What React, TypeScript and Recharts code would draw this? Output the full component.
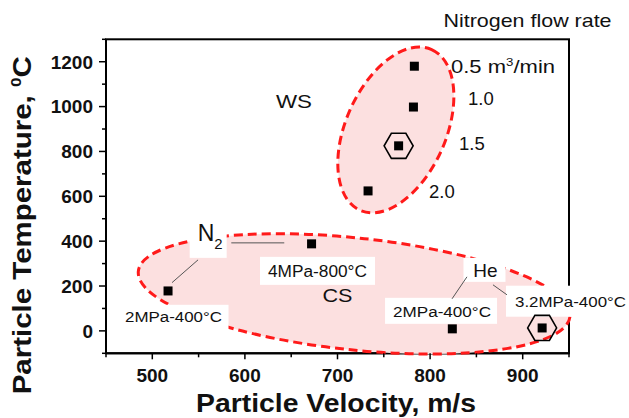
import React from "react";
import * as R from "recharts";
import { ReferenceDot, Scatter, ScatterChart, XAxis, YAxis } from "recharts";

const FONT = '"Liberation Sans", Arial, Helvetica, sans-serif';
const RED = "#ff1a1a";
const PINK = "#fce0e0";

// WS runs, labelled by nitrogen flow rate (m3/min)
const wsFlow = ["0.5", "1.0", "1.5", "2.0"];
const wsVelocity = [783, 782, 766, 733];
const wsTemperature = [1180, 998, 825, 624];

// CS runs, gas + pressure-temperature
const csRun = ["N2 2MPa-400", "N2 4MPa-800", "He 2MPa-400", "He 3.2MPa-400"];
const csVelocity = [517, 672, 824, 921];
const csTemperature = [178, 388, 9, 13];

// runs marked with a hexagon
const marked = ["1.5", "He 3.2MPa-400"];

// region ellipses (centre in data units)
const regionName = ["WS", "CS"];
const regionVelocity = [763, 718];
const regionTemperature = [896, 165];

const xDomain = [450, 950];
const yDomain = [-100, 1300];
const xTicks = [450, 500, 550, 600, 650, 700, 750, 800, 850, 900, 950];
const xMajor = [500, 600, 700, 800, 900];
const yTicks = [-100, 0, 100, 200, 300, 400, 500, 600, 700, 800, 900, 1000, 1100, 1200, 1300];
const yMajor = [0, 200, 400, 600, 800, 1000, 1200];

const points = [
  ...wsFlow.map((name, i) => ({ name, x: wsVelocity[i], y: wsTemperature[i] })),
  ...csRun.map((name, i) => ({ name, x: csVelocity[i], y: csTemperature[i] })),
];
const markedPoints = points.filter((p) => marked.includes(p.name));
const regions = regionName.map((name, i) => ({ name, x: regionVelocity[i], y: regionTemperature[i] }));

// ellipse size / tilt in px
const REGION_GEOM: Record<string, { rx: number; ry: number; angle: number }> = {
  WS: { rx: 88, ry: 50, angle: -66 },
  CS: { rx: 217, ry: 56, angle: 6 },
};

type Note = {
  x: number;
  y: number;
  text: string;
  size: number;
  anchor: "start" | "middle";
  width?: number;
  box?: [number, number, number, number];
  sup?: string;
  tail?: string;
  sub?: string;
};

const notes: Note[] = [
  { x: 814.5, y: 1384, text: "Nitrogen flow rate", size: 18.5, anchor: "start", width: 168 },
  { x: 822.6, y: 1181, text: "0.5 m", sup: "3", tail: "/min", size: 18.5, anchor: "start", width: 104 },
  { x: 840.9, y: 1037, text: "1.0", size: 18.5, anchor: "start" },
  { x: 831.2, y: 838, text: "1.5", size: 18.5, anchor: "start" },
  { x: 798.8, y: 621, text: "2.0", size: 18.5, anchor: "start" },
  { x: 653, y: 1023, text: "WS", size: 18.5, anchor: "middle", width: 36 },
  { x: 549, y: 437, text: "N", sub: "2", size: 23, anchor: "start", box: [-8, -11, 37, 36] },
  { x: 522.9, y: 62.7, text: "2MPa-400°C", size: 15.5, anchor: "middle", width: 97, box: [-55, -12, 110, 25] },
  { x: 678.4, y: 267.6, text: "4MPa-800°C", size: 16, anchor: "middle", width: 99, box: [-57.5, -14, 115, 28] },
  { x: 700, y: 160, text: "CS", size: 18.5, anchor: "middle", width: 30 },
  { x: 859.8, y: 272, text: "He", size: 19, anchor: "middle", box: [-22, -12, 42, 24] },
  { x: 812.9, y: 84.9, text: "2MPa-400°C", size: 15.5, anchor: "middle", width: 98, box: [-57, -14, 112, 26] },
  { x: 891.7, y: 130, text: "3.2MPa-400°C", size: 15, anchor: "start", width: 111, box: [-9, -16, 123, 31] },
];

// leader lines from the gas labels to their runs
const connectors = [
  [{ x: 585.3, y: 392.4 }, { x: 642.5, y: 392.4 }],
  [{ x: 549.4, y: 316.6 }, { x: 521.3, y: 215.1 }],
  [{ x: 839.8, y: 240.9 }, { x: 823.7, y: 142.9 }],
  [{ x: 867.9, y: 205.3 }, { x: 883, y: 160.8 }],
];

const usePlot: any = (R as any).usePlotArea ?? (R as any).useOffset;

// plot box from the chart; falls back to the layout set on the chart below
function usePlotBox() {
  const area = usePlot ? usePlot() : null;
  if (!area || !area.width) return { x: 106, y: 39.3, width: 463, height: 314 };
  return { x: area.x ?? area.left, y: area.y ?? area.top, width: area.width, height: area.height };
}

// frame round the plot + axis titles
function FrameAndTitles() {
  const a = usePlotBox();
  const tx = a.x - 75;
  const ty = a.y + a.height / 2 + 29;
  return (
    <g>
      <rect x={a.x} y={a.y} width={a.width} height={a.height} fill="none" stroke="#000" strokeWidth={2} />
      <text
        x={a.x + a.width / 2 - 1.5}
        y={a.y + a.height + 59}
        textAnchor="middle"
        fontSize={25}
        fontWeight="bold"
        fontFamily={FONT}
        fill="#111"
        textLength={280}
        lengthAdjust="spacingAndGlyphs"
      >
        Particle Velocity, m/s
      </text>
      <text
        x={tx}
        y={ty}
        transform={`rotate(-90 ${tx} ${ty})`}
        textAnchor="middle"
        fontSize={26}
        fontWeight="bold"
        fontFamily={FONT}
        fill="#111"
        textLength={338}
        lengthAdjust="spacingAndGlyphs"
      >
        Particle Temperature,{" "}
        <tspan fontSize={15} dy={-10}>
          0
        </tspan>
        <tspan dy={10}>C</tspan>
      </text>
    </g>
  );
}

function EllipseShape(props: any) {
  const { cx, cy, payload } = props;
  const g = REGION_GEOM[payload.name];
  return (
    <ellipse
      cx={cx}
      cy={cy}
      rx={g.rx}
      ry={g.ry}
      transform={`rotate(${g.angle} ${cx} ${cy})`}
      fill={PINK}
      stroke={RED}
      strokeWidth={3}
      strokeDasharray="9 5"
    />
  );
}

function SquareShape(props: any) {
  const { cx, cy } = props;
  return <rect x={cx - 4.5} y={cy - 4.5} width={9} height={9} fill="#000" />;
}

function HexShape(props: any) {
  const { cx, cy } = props;
  const r = 14.5;
  const pts = [0, 60, 120, 180, 240, 300]
    .map((a) => `${cx + r * Math.cos((a * Math.PI) / 180)},${cy + r * Math.sin((a * Math.PI) / 180)}`)
    .join(" ");
  return <polygon points={pts} fill="none" stroke="#000" strokeWidth={1.6} />;
}

function NoShape() {
  return <g />;
}

function NoteShape({ cx, cy, note }: { cx: number; cy: number; note: Note }) {
  const { box, size, anchor, width } = note;
  return (
    <g>
      {box && <rect x={cx + box[0]} y={cy + box[1]} width={box[2]} height={box[3]} fill="#fff" />}
      <text
        x={cx}
        y={cy}
        dy="0.36em"
        textAnchor={anchor}
        fontSize={size}
        fontFamily={FONT}
        fill="#111"
        textLength={width}
        lengthAdjust={width ? "spacingAndGlyphs" : undefined}
      >
        {note.text}
        {note.sup && (
          <tspan fontSize={size * 0.6} dy={-7}>
            {note.sup}
          </tspan>
        )}
        {note.tail && <tspan dy={7}>{note.tail}</tspan>}
        {note.sub && (
          <tspan fontSize={size * 0.65} dy={8}>
            {note.sub}
          </tspan>
        )}
      </text>
    </g>
  );
}

function XTick(props: any) {
  const { x, y, payload } = props;
  const major = xMajor.includes(payload.value);
  return (
    <g>
      <line x1={x} x2={x} y1={y} y2={y + (major ? 6 : 4)} stroke="#000" strokeWidth={1.5} />
      {major && (
        <text x={x} y={y + 22} dy="0.36em" textAnchor="middle" fontSize={19} fontWeight="bold" fontFamily={FONT} fill="#111">
          {payload.value}
        </text>
      )}
    </g>
  );
}

function YTick(props: any) {
  const { x, y, payload } = props;
  const major = yMajor.includes(payload.value);
  return (
    <g>
      <line x1={x} x2={x - (major ? 7 : 4)} y1={y} y2={y} stroke="#000" strokeWidth={1.5} />
      {major && (
        <text x={x - 13} y={y} dy="0.36em" textAnchor="end" fontSize={19} fontWeight="bold" fontFamily={FONT} fill="#111">
          {payload.value}
        </text>
      )}
    </g>
  );
}

// stable props, so nothing re-registers on every render
const AXIS_LINE = { stroke: "#000", strokeWidth: 2 };
const LEADER_LINE = { stroke: "#555", strokeWidth: 1 };
const X_TICK = <XTick />;
const Y_TICK = <YTick />;
const ELLIPSE = <EllipseShape />;
const SQUARE = <SquareShape />;
const HEX = <HexShape />;
const NONE = <NoShape />;
const noteShapes = notes.map((n) => (p: any) => <NoteShape cx={p.cx} cy={p.cy} note={n} />);
const MARGIN = { top: 39.3, right: 60, bottom: 0, left: 0 };

export default function App() {
  return (
    <div style={{ position: "absolute", left: 0, top: 0, width: 629, height: 418, background: "#fff" }}>
      <ScatterChart width={629} height={418} margin={MARGIN}>
        <XAxis
          type="number"
          dataKey="x"
          domain={xDomain}
          ticks={xTicks}
          interval={0}
          height={64.7}
          tickSize={0}
          tickMargin={0}
          tickLine={false}
          tick={X_TICK}
          axisLine={AXIS_LINE}
        />
        <YAxis
          type="number"
          dataKey="y"
          domain={yDomain}
          ticks={yTicks}
          interval={0}
          width={106}
          tickSize={0}
          tickMargin={0}
          tickLine={false}
          tick={Y_TICK}
          axisLine={AXIS_LINE}
        />
        <FrameAndTitles />
        <Scatter data={regions} shape={ELLIPSE} isAnimationActive={false} />
        {notes.map((n, i) => (
          <ReferenceDot key={`note-${i}`} x={n.x} y={n.y} r={0} ifOverflow="visible" shape={noteShapes[i]} />
        ))}
        {connectors.map((c, i) => (
          <Scatter key={`conn-${i}`} data={c} line={LEADER_LINE} shape={NONE} isAnimationActive={false} />
        ))}
        <Scatter data={points} shape={SQUARE} isAnimationActive={false} />
        <Scatter data={markedPoints} shape={HEX} isAnimationActive={false} />
      </ScatterChart>
    </div>
  );
}
